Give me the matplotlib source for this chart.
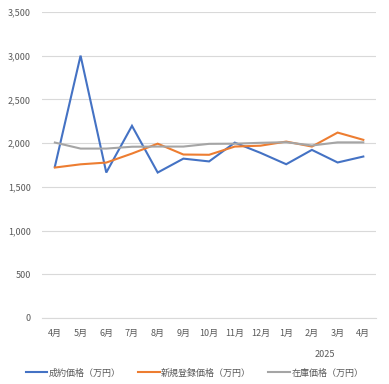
import matplotlib
matplotlib.use("Agg")
import matplotlib.pyplot as plt
from matplotlib.ticker import FuncFormatter
import numpy as np

plt.rcParams['font.family'] = ['Noto Sans CJK JP', 'DejaVu Sans']

months = ["4月", "5月", "6月", "7月", "8月", "9月", "10月", "11月", "12月", "1月", "2月", "3月", "4月"]
year_label = "2025"
year_group = (9, 12)  # index range for 2025
seiyaku = [1730, 3000, 1663, 2197, 1663, 1822, 1790, 2005, 1888, 1758, 1922, 1778, 1846]
shinki = [1720, 1757, 1777, 1880, 1993, 1869, 1866, 1960, 1970, 2017, 1960, 2120, 2037]
zaiko = [2006, 1937, 1937, 1958, 1960, 1960, 1991, 1993, 2003, 2010, 1972, 2008, 2008]
names = ["成約価格（万円）", "新規登録価格（万円）", "在庫価格（万円）"]
colors = ["#4472C4", "#ED7D31", "#A5A5A5"]

fig = plt.figure(figsize=(3.89, 3.84), dpi=100)
ax = fig.add_axes([0.108, 0.172, 0.859, 0.797])
x = np.arange(len(months))
for vals, name, c in zip([seiyaku, shinki, zaiko], names, colors):
    ax.plot(x, vals, color=c, lw=1.5, label=name, solid_joinstyle='miter')

ax.set_xlim(-0.5, len(months) - 0.5)
ax.set_ylim(0, 3500)
ax.set_yticks(np.arange(0, 3501, 500))
ax.yaxis.set_major_formatter(FuncFormatter(lambda v, p: f"{int(v):,}"))
ax.set_xticks(x)
ax.set_xticklabels(months)
ax.grid(axis='y', color='#D9D9D9', lw=0.8)
ax.set_axisbelow(True)
for s in ['top', 'right', 'left']:
    ax.spines[s].set_visible(False)
ax.spines['bottom'].set_color('#D9D9D9')
ax.tick_params(axis='both', length=0, labelsize=6.5, colors='#595959')
ax.tick_params(axis='x', pad=8)
ax.tick_params(axis='y', pad=8)

gx = (year_group[0] + year_group[1]) / 2
ax.text(gx, -0.12, year_label, transform=ax.get_xaxis_transform(), ha='center', va='center',
        fontsize=6.5, color='#595959')

leg = fig.legend(loc='center', bbox_to_anchor=(0.5, 0.029), ncol=3, frameon=False,
                 fontsize=6.5, handlelength=2.4, handletextpad=0.15, columnspacing=1.9)
for t in leg.get_texts():
    t.set_color('#595959')

fig.savefig("out.png", dpi=100)
